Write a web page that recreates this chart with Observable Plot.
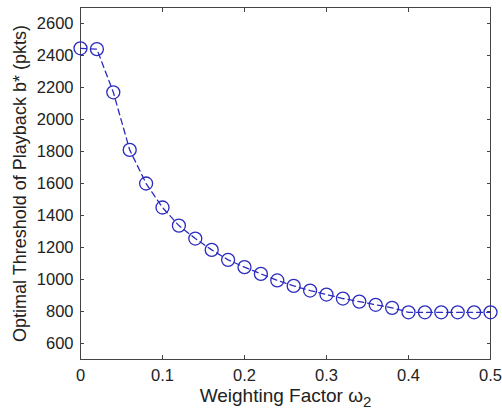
<!DOCTYPE html>
<html>
<head>
<meta charset="utf-8">
<script src="https://cdn.jsdelivr.net/npm/d3@7"></script>
<script src="https://cdn.jsdelivr.net/npm/@observablehq/plot@0.6"></script>
<style>
  html, body { margin: 0; padding: 0; background: #fff; }
  #chart svg { display: block; }
</style>
</head>
<body>
<div id="chart"></div>
<script>
const weights = [0, 0.02, 0.04, 0.06, 0.08, 0.10, 0.12, 0.14, 0.16, 0.18, 0.20, 0.22, 0.24, 0.26,
                 0.28, 0.30, 0.32, 0.34, 0.36, 0.38, 0.40, 0.42, 0.44, 0.46, 0.48, 0.50];
const thresholds = [2445, 2440, 2170, 1810, 1600, 1450, 1337, 1256, 1185, 1123, 1077, 1035, 994, 960,
                    931, 906, 881, 862, 842, 823, 795, 795, 795, 795, 795, 795];
const xTicks = [0, 0.1, 0.2, 0.3, 0.4, 0.5];
const yTicks = [600, 800, 1000, 1200, 1400, 1600, 1800, 2000, 2200, 2400, 2600];
const xLabel = "Weighting Factor ω";
const xLabelSub = "2";
const yLabel = "Optimal Threshold of Playback b* (pkts)";

const data = weights.map((w, i) => ({w, b: thresholds[i]}));
const blue = "#2b2bbf";

const chart = Plot.plot({
  width: 502,
  height: 412,
  marginLeft: 80,
  marginRight: 12,
  marginTop: 7,
  marginBottom: 53,
  style: {fontFamily: "'Liberation Sans', Arial, sans-serif", fontSize: "16px", color: "#222", background: "#fff"},
  x: {domain: [0, 0.5]},
  y: {domain: [500, 2700]},
  marks: [
    Plot.frame({stroke: "#444", strokeWidth: 1}),
    Plot.axisX({anchor: "bottom", ticks: xTicks, tickSize: -4, tickPadding: 14, tickFormat: d => String(d), label: null, stroke: "#444", fontSize: 16.5, fill: "#222"}),
    Plot.axisX({anchor: "top", ticks: xTicks, tickSize: -4, tickFormat: () => "", label: null, stroke: "#444"}),
    Plot.axisY({anchor: "left", ticks: yTicks, tickSize: -4, tickPadding: 11, tickFormat: d => String(d), label: null, stroke: "#444", fontSize: 16.5, fill: "#222"}),
    Plot.axisY({anchor: "right", ticks: yTicks, tickSize: -4, tickFormat: () => "", label: null, stroke: "#444"}),
    Plot.line(data, {x: "w", y: "b", stroke: blue, strokeWidth: 1.3, strokeDasharray: "6,4"}),
    Plot.dot(data, {x: "w", y: "b", r: 6.5, stroke: blue, strokeWidth: 1.3, fill: "none"}),
    Plot.text([xLabel], {frameAnchor: "bottom", textAnchor: "middle", dy: 42, fontSize: 19, fill: "#222", className: "xlab"}),
    Plot.text([yLabel], {frameAnchor: "left", textAnchor: "middle", dx: -60, rotate: -90, fontSize: 18, fill: "#222"})
  ]
});
document.getElementById("chart").appendChild(chart);

// add subscript to the x label
const t = chart.querySelector("g.xlab text, .xlab text");
if (t) {
  t.textContent = "";
  const a = document.createElementNS("http://www.w3.org/2000/svg", "tspan");
  a.textContent = xLabel;
  const b = document.createElementNS("http://www.w3.org/2000/svg", "tspan");
  b.textContent = xLabelSub;
  b.setAttribute("dy", "5");
  b.setAttribute("font-size", "15");
  t.appendChild(a);
  t.appendChild(b);
}
</script>
</body>
</html>
